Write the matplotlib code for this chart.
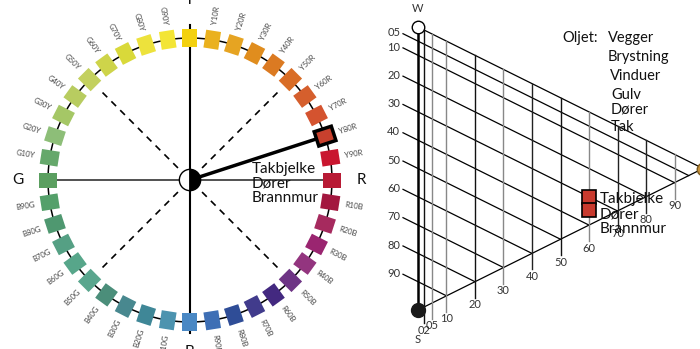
import numpy as np
import matplotlib.pyplot as plt
from matplotlib.patches import Rectangle, Wedge

plt.rcParams['font.family'] = ['Lato', 'DejaVu Sans']

# NCS hue circle, clockwise from Y at the top
hues = ['Y', 'Y10R', 'Y20R', 'Y30R', 'Y40R', 'Y50R', 'Y60R', 'Y70R', 'Y80R', 'Y90R',
        'R', 'R10B', 'R20B', 'R30B', 'R40B', 'R50B', 'R60B', 'R70B', 'R80B', 'R90B',
        'B', 'B10G', 'B20G', 'B30G', 'B40G', 'B50G', 'B60G', 'B70G', 'B80G', 'B90G',
        'G', 'G10Y', 'G20Y', 'G30Y', 'G40Y', 'G50Y', 'G60Y', 'G70Y', 'G80Y', 'G90Y']
hue_colors = ['#F3D10F', '#EAB11E', '#E6A422', '#E08D1E', '#DB7A22', '#D96D26', '#D55F2D', '#D4532F', '#C8402D', '#C9162F',
              '#B81B35', '#A3173F', '#A62A5E', '#9A2570', '#93357F', '#6E3585', '#432980', '#413B8C', '#2F4D97', '#3E6FB5',
              '#4A88C4', '#4C93AF', '#3F8797', '#48888F', '#4B8E7A', '#5AA68E', '#57A68A', '#55A084', '#4F9870', '#54A06A',
              '#5B9F60', '#65A86B', '#8DBE78', '#A5C766', '#B8CC60', '#C3D05E', '#CED44A', '#D9D93A', '#EDE23C', '#F3E535']
main_hues = ['Y', 'R', 'B', 'G']
selected_hue = 'Y80R'
sample_names = ['Takbjelke', 'Dører', 'Brannmur']

# NCS triangle (blackness s, chromaticness c)
blackness_ticks = [0.05, 0.10, 0.20, 0.30, 0.40, 0.50, 0.60, 0.70, 0.80, 0.90]
blackness_labels = ['05', '10', '20', '30', '40', '50', '60', '70', '80', '90']
chroma_ticks = [0.02, 0.05, 0.10, 0.20, 0.30, 0.40, 0.50, 0.60, 0.70, 0.80, 0.90]
chroma_labels = ['02', '05', '10', '20', '30', '40', '50', '60', '70', '80', '90']
chroma_line_colors = ['#111', '#888', '#888', '#111', '#888', '#222', '#111', '#888', '#222', '#222', '#888']
sample_s = [0.30, 0.345]
sample_c = [0.60, 0.60]
sample_color = '#C83A2E'
oljet_items = ['Vegger', 'Brystning', 'Vinduer', 'Gulv', 'Dører', 'Tak']

fig = plt.figure(figsize=(7, 3.49), dpi=100)

# ---- hue circle ----
ax1 = fig.add_axes([0, 0, 380 / 700, 1])
ax1.set_xlim(-190 / 142, 190 / 142)
ax1.set_ylim(-169 / 142, 180 / 142)
ax1.axis('off')

t = np.linspace(0, 2 * np.pi, 400)
ax1.plot(np.cos(t), np.sin(t), color='black', lw=1.1, zorder=1)
ax1.plot([-1, 1], [0, 0], color='#333333', lw=1.2, zorder=1)
ax1.plot([0, 0], [-1.08, 1.09], color='black', lw=1.5, zorder=1)
for d in [45, 135, 225, 315]:
    a = np.deg2rad(d)
    ax1.plot([0.12 * np.cos(a), 0.91 * np.cos(a)], [0.12 * np.sin(a), 0.91 * np.sin(a)],
             color='black', lw=1.2, ls=(0, (4, 3.5)), zorder=1)

angles = 90 - 9 * np.arange(len(hues))
w, h = 18 / 142, 15 / 142
for name, col, d in zip(hues, hue_colors, angles):
    a = np.deg2rad(d)
    cx, cy = np.cos(a), np.sin(a)
    sel = name == selected_hue
    ax1.add_patch(Rectangle((cx - w / 2, cy - h / 2), w, h, angle=d, rotation_point='center',
                            fc=col, ec='black' if sel else 'none', lw=2.5 if sel else 0, zorder=3))
    if sel:
        ax1.plot([0, cx], [0, cy], color='black', lw=2.5, zorder=2)
    if name in main_hues:
        r = 1.27 if name == 'Y' else 1.21
        ax1.text(r * cx, r * cy, name, fontsize=11, ha='center', va='center', color='#111')
    else:
        dn = (d + 180) % 360 - 180
        rot = dn if -90 <= dn <= 90 else dn - 180
        ax1.text(1.17 * cx, 1.17 * cy, name, fontsize=5.5, color='#444444', rotation=rot,
                 rotation_mode='anchor', ha='center', va='center')

ax1.add_patch(Wedge((0, 0), 0.075, 90, 270, fc='white', ec='black', lw=1, zorder=4))
ax1.add_patch(Wedge((0, 0), 0.075, -90, 90, fc='black', ec='black', lw=1, zorder=4))
ax1.text(0.437, 0.13, '\n'.join(sample_names), fontsize=11, va='top', ha='left',
         linespacing=1.05, color='#111')

# ---- NCS triangle ----
ax2 = fig.add_axes([380 / 700, 0, 320 / 700, 1])
ax2.set_xlim(-38 / 285, 282 / 285)
ax2.set_ylim(-39 / 283, 310 / 283)
ax2.axis('off')


def pos(s, c):
    return c, 1 - s - c / 2


ax2.plot([0, 0], [0, 1], color='black', lw=1.8)
ax2.plot([0, 1], [1, 0.5], color='black', lw=0.9)
ax2.plot([0, 1], [0, 0.5], color='black', lw=0.9)

ext = -15 / 285
for s, lab in zip(blackness_ticks, blackness_labels):
    x0, y0 = ext, 1 - s - ext / 2
    x1, y1 = pos(s, 1 - s)
    ax2.plot([x0, x1], [y0, y1], color='black', lw=0.9)
    ax2.text(x0 - 0.01, y0 + 0.003, lab, fontsize=8, ha='right', va='center', color='#333')

drop = 16 / 283
for c, lab, lc in zip(chroma_ticks, chroma_labels, chroma_line_colors):
    ax2.plot([c, c], [1 - c / 2, c / 2 - drop], color=lc, lw=1.0)
    ax2.text(c, c / 2 - drop - 0.005, lab, fontsize=8, ha='center', va='top', color='#333')

ax2.plot(0, 1, 'o', mfc='white', mec='black', ms=9, mew=1, zorder=5)
ax2.plot(0, 0, 'o', color='#1a1a1a', ms=10, zorder=5)
ax2.plot(1, 0.5, 'o', mfc='#C8923A', mec='#7a5a20', ms=9, zorder=5, clip_on=False)
ax2.text(0, 1.067, 'W', fontsize=8, ha='center', va='center', color='#333')
ax2.text(0, -0.106, 'S', fontsize=8, ha='center', va='center', color='#333')

for s, c in zip(sample_s, sample_c):
    x, y = pos(s, c)
    ax2.plot(x, y, 's', mfc=sample_color, mec='black', ms=9.5, mew=1.2, zorder=6)
ax2.text(0.639, 0.417, '\n'.join(sample_names), fontsize=11, va='top', ha='left',
         linespacing=1.1, color='#111', zorder=7)

ax2.text(0.505, 0.961, 'Oljet:', fontsize=10.5, va='center', ha='left', color='#111')
oljet_y = [0.961, 0.894, 0.827, 0.760, 0.707, 0.647]
oljet_x = [0.667, 0.667, 0.674, 0.677, 0.677, 0.677]
for txt, x, y in zip(oljet_items, oljet_x, oljet_y):
    ax2.text(x, y, txt, fontsize=10.5, va='center', ha='left', color='#111', zorder=7)

fig.savefig('out.png', dpi=100)
